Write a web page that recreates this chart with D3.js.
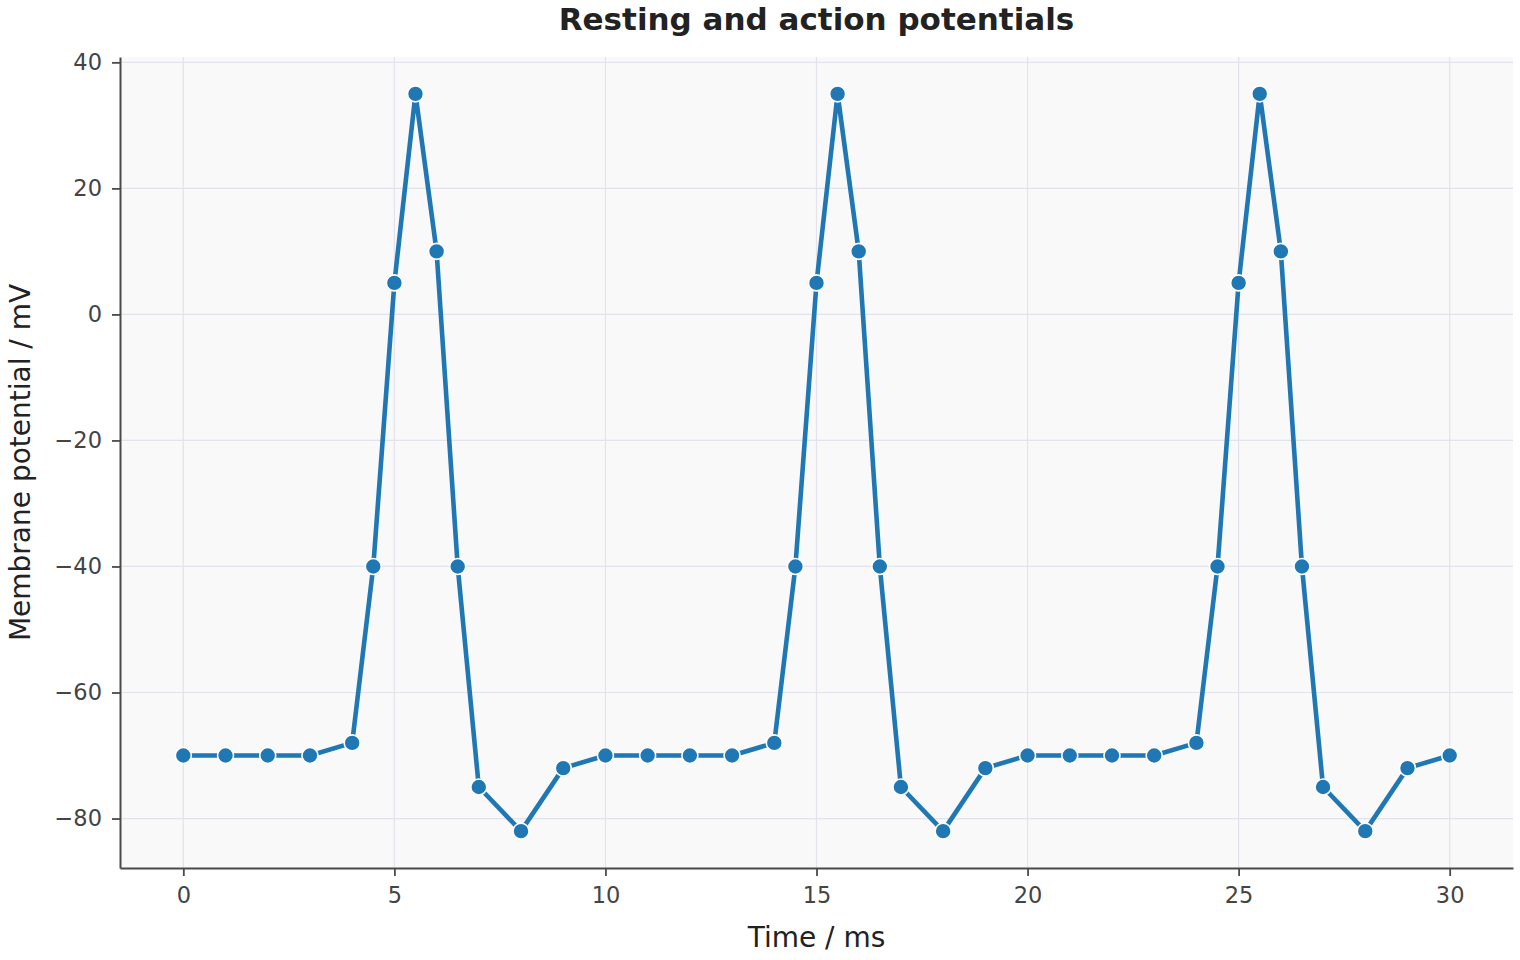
<!DOCTYPE html>
<meta charset="utf-8">
<script src="https://d3js.org/d3.v7.min.js"></script>
<style>
  body { margin: 0; background: #fff; }
  text { font-family: "DejaVu Sans", sans-serif; }
  .tick text { font-size: 22.5px; fill: #444; }
  .axis-label { font-size: 28px; fill: #222; }
  .title { font-size: 31px; font-weight: bold; fill: #222; }
</style>
<div id="chart"></div>
<script>
// time in ms and membrane potential in mV
var times = [0, 1, 2, 3, 4, 4.5, 5, 5.5, 6, 6.5, 7, 8, 9,
             10, 11, 12, 13, 14, 14.5, 15, 15.5, 16, 16.5, 17, 18, 19,
             20, 21, 22, 23, 24, 24.5, 25, 25.5, 26, 26.5, 27, 28, 29, 30];
var potentials = [-70, -70, -70, -70, -68, -40, 5, 35, 10, -40, -75, -82, -72,
                  -70, -70, -70, -70, -68, -40, 5, 35, 10, -40, -75, -82, -72,
                  -70, -70, -70, -70, -68, -40, 5, 35, 10, -40, -75, -82, -72, -70];
var xTicks = [0, 5, 10, 15, 20, 25, 30];
var yTicks = [-80, -60, -40, -20, 0, 20, 40];

var data = times.map(function(t, i) { return {t: t, v: potentials[i]}; });

var margin = {top: 57, right: 7, bottom: 92, left: 120},
    width = 1520 - margin.left - margin.right,
    height = 960 - margin.top - margin.bottom;

var svg = d3.select("#chart")
  .append("svg")
    .attr("width", 1520)
    .attr("height", 960);

var g = svg.append("g")
    .attr("transform", "translate(" + margin.left + "," + margin.top + ")");

var x = d3.scaleLinear().domain([-1.5, 31.5]).range([0, width]);
var y = d3.scaleLinear().domain([-87.85, 40.85]).range([height, 0]);

// plot background
g.append("rect")
  .attr("width", width)
  .attr("height", height)
  .attr("fill", "#f9f9fa");

// grid
g.append("g").selectAll("line").data(xTicks).enter().append("line")
  .attr("x1", d => x(d)).attr("x2", d => x(d))
  .attr("y1", 0).attr("y2", height)
  .attr("stroke", "#e3e3ec").attr("stroke-width", 1.2);
g.append("g").selectAll("line").data(yTicks).enter().append("line")
  .attr("x1", 0).attr("x2", width)
  .attr("y1", d => y(d)).attr("y2", d => y(d))
  .attr("stroke", "#e3e3ec").attr("stroke-width", 1.2);

// axes
var xAxis = g.append("g")
  .attr("transform", "translate(0," + height + ")")
  .call(d3.axisBottom(x).tickValues(xTicks).tickSize(8).tickPadding(11).tickSizeOuter(0));
var yAxis = g.append("g")
  .call(d3.axisLeft(y).tickValues(yTicks).tickSize(8).tickPadding(10).tickSizeOuter(0));
[xAxis, yAxis].forEach(function(a) {
  a.select(".domain").attr("stroke", "#4a4a4a").attr("stroke-width", 2);
  a.selectAll(".tick line").attr("stroke", "#4a4a4a").attr("stroke-width", 1.8);
});

// line
g.append("path")
  .datum(data)
  .attr("fill", "none")
  .attr("stroke", "#1f77b4")
  .attr("stroke-width", 4.6)
  .attr("stroke-linejoin", "round")
  .attr("d", d3.line().x(d => x(d.t)).y(d => y(d.v)));

// markers
g.append("g").selectAll("circle").data(data).enter().append("circle")
  .attr("cx", d => x(d.t))
  .attr("cy", d => y(d.v))
  .attr("r", 8)
  .attr("fill", "#1f77b4")
  .attr("stroke", "#fff")
  .attr("stroke-width", 1.6);

// labels
svg.append("text")
  .attr("class", "title")
  .attr("x", margin.left + width / 2)
  .attr("y", 30)
  .attr("text-anchor", "middle")
  .text("Resting and action potentials");

svg.append("text")
  .attr("class", "axis-label")
  .attr("x", margin.left + width / 2)
  .attr("y", 947)
  .attr("text-anchor", "middle")
  .text("Time / ms");

svg.append("text")
  .attr("class", "axis-label")
  .attr("transform", "translate(30," + (margin.top + height / 2) + ") rotate(-90)")
  .attr("text-anchor", "middle")
  .text("Membrane potential / mV");
</script>
